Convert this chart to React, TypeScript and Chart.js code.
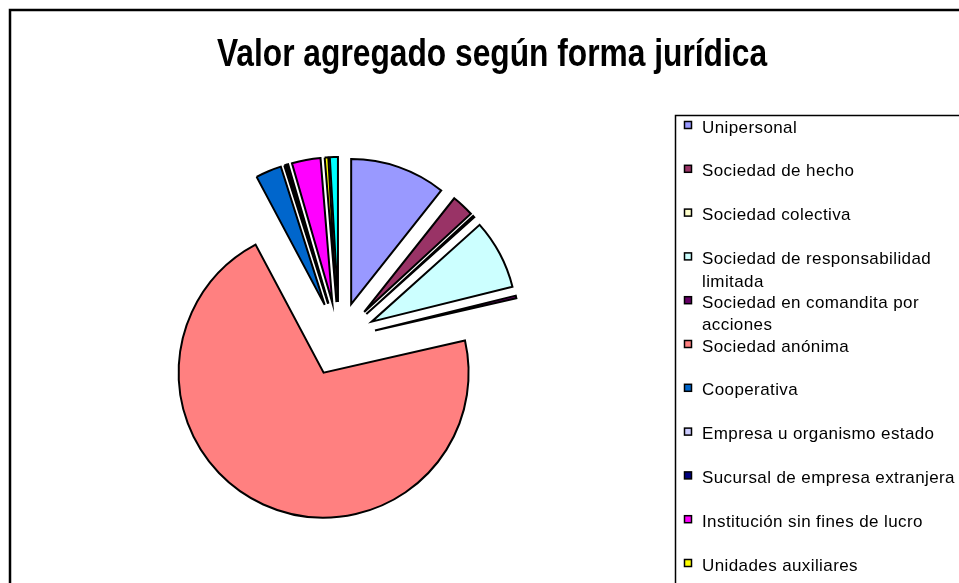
import React, { useEffect, useRef } from "react";
import { Chart, registerables } from "chart.js";

Chart.register(...registerables);

const titulo = "Valor agregado según forma jurídica";

const etiquetas: (string | string[])[] = [
  "Unipersonal",
  "Sociedad de hecho",
  "Sociedad colectiva",
  ["Sociedad de responsabilidad", "limitada"],
  ["Sociedad en comandita por", "acciones"],
  "Sociedad anónima",
  "Cooperativa",
  "Empresa u organismo estado",
  "Sucursal de empresa extranjera",
  "Institución sin fines de lucro",
  "Unidades auxiliares",
  "Otras",
];

// percent share of value added
const valores = [10.7, 2.5, 0.2, 7.8, 0.3, 71.0, 2.9, 0.2, 0.2, 3.2, 0.4, 0.9];

const colores = [
  "#9999FF",
  "#993366",
  "#FFFFCC",
  "#CCFFFF",
  "#660066",
  "#FF8080",
  "#0066CC",
  "#CCCCFF",
  "#000080",
  "#FF00FF",
  "#FFFF00",
  "#00FFFF",
];

const W = 959;
const H = 583;
const EXPLODE = 37;

// draw each slice pulled out along its bisector (Excel-style explosion)
const explode = {
  id: "explode",
  beforeDatasetDraw(chart: any, args: any) {
    const meta = args.meta || chart.getDatasetMeta(args.index);
    const ctx: CanvasRenderingContext2D = chart.ctx;
    meta.data.forEach((arc: any) => {
      const mid = (arc.startAngle + arc.endAngle) / 2;
      ctx.save();
      ctx.translate(Math.cos(mid) * EXPLODE, Math.sin(mid) * EXPLODE);
      arc.draw(ctx, chart.chartArea);
      ctx.restore();
    });
    return false;
  },
};

const decor = {
  id: "decor",
  afterDraw(chart: any) {
    const ctx: CanvasRenderingContext2D = chart.ctx;
    ctx.save();
    // outer frame
    ctx.strokeStyle = "#000";
    ctx.lineWidth = 2.5;
    ctx.strokeRect(10, 10, 1200, 1200);

    // title
    ctx.save();
    ctx.fillStyle = "#000";
    ctx.font = 'bold 38px "Liberation Sans", Arial, sans-serif';
    ctx.textAlign = "center";
    ctx.textBaseline = "alphabetic";
    ctx.translate(492, 66);
    ctx.scale(0.835, 1);
    ctx.fillText(titulo, 0, 0);
    ctx.restore();

    // legend box
    ctx.lineWidth = 1.5;
    ctx.strokeRect(675.5, 115.5, 600, 800);

    const labels = chart.data.labels as (string | string[])[];
    const bg = chart.data.datasets[0].backgroundColor as string[];
    ctx.font = '17px "Liberation Sans", Arial, sans-serif';
    (ctx as any).letterSpacing = "0.4px";
    ctx.textAlign = "left";
    ctx.textBaseline = "middle";
    labels.forEach((lab, i) => {
      const cy = 128 + i * 43.8;
      ctx.fillStyle = bg[i];
      ctx.fillRect(684.5, cy - 6.5, 7, 7);
      ctx.lineWidth = 1.5;
      ctx.strokeStyle = "#000";
      ctx.strokeRect(684.5, cy - 6.5, 7, 7);
      ctx.fillStyle = "#000";
      const lines = Array.isArray(lab) ? lab : [lab];
      lines.forEach((ln, j) => {
        ctx.fillText(ln, 702, cy + j * 22.5);
      });
    });
    ctx.restore();
  },
};

export default function App() {
  const ref = useRef<HTMLCanvasElement | null>(null);
  useEffect(() => {
    if (!ref.current) return;
    const chart = new Chart(ref.current, {
      type: "pie",
      data: {
        labels: etiquetas as any,
        datasets: [
          {
            data: valores,
            backgroundColor: colores,
            borderColor: "#000",
            borderWidth: 2,
            borderJoinStyle: "miter",
          } as any,
        ],
      },
      options: {
        animation: false,
        responsive: false,
        radius: 145,
        layout: { padding: { left: 0, right: 281, top: 95, bottom: 0 } },
        plugins: {
          legend: { display: false },
          title: { display: false },
          tooltip: { enabled: false },
        },
      } as any,
      plugins: [explode, decor],
    });
    return () => chart.destroy();
  }, []);
  return (
    <div style={{ position: "fixed", left: 0, top: 0, width: W, height: H, background: "#fff" }}>
      <canvas ref={ref} width={W} height={H} style={{ width: W, height: H, display: "block" }} />
    </div>
  );
}
